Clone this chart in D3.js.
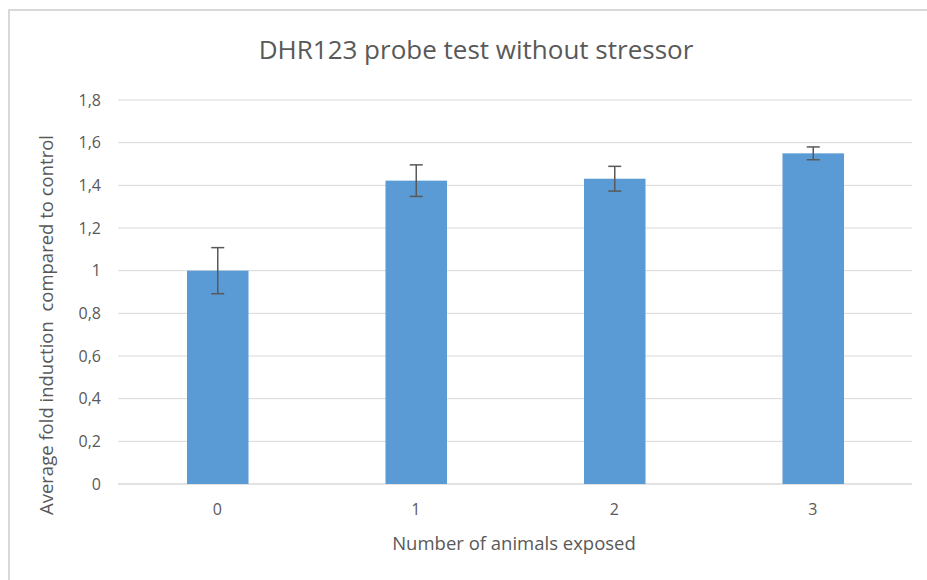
<!DOCTYPE html>
<html>
<head>
<meta charset="utf-8">
<script src="https://cdn.jsdelivr.net/npm/d3@7"></script>
<style>
  body { margin: 0; background: #fff; }
  text { font-family: "Open Sans", "Liberation Sans", sans-serif; fill: #595959; }
</style>
</head>
<body>
<svg id="chart" width="927" height="580"></svg>
<script>
// values
const categories = ["0", "1", "2", "3"];
const means = [1.0, 1.422, 1.431, 1.55];
const errors = [0.108, 0.074, 0.058, 0.03];
const yTicks = [0, 0.2, 0.4, 0.6, 0.8, 1, 1.2, 1.4, 1.6, 1.8];

const width = 927, height = 580;
const margin = { left: 118, right: 15, top: 100, bottom: 96 };
const barColor = "#5b9bd5";
const gridColor = "#d9d9d9";

const svg = d3.select("#chart");

// outer chart border (right/bottom run off the picture)
svg.append("rect")
    .attr("x", 9)
    .attr("y", 10)
    .attr("width", 940)
    .attr("height", 600)
    .attr("fill", "#fff")
    .attr("stroke", gridColor)
    .attr("stroke-width", 2);

const x = d3.scaleBand()
    .domain(categories)
    .range([margin.left, width - margin.right])
    .paddingInner(0.69)
    .paddingOuter(0.345);

const y = d3.scaleLinear()
    .domain([0, 1.8])
    .range([height - margin.bottom, margin.top]);

const fmt = d => d3.format("~g")(d).replace(".", ",");

// gridlines
svg.append("g")
    .selectAll("line")
    .data(yTicks)
    .enter()
    .append("line")
    .attr("x1", margin.left)
    .attr("x2", width - margin.right)
    .attr("y1", d => y(d))
    .attr("y2", d => y(d))
    .attr("stroke", gridColor)
    .attr("stroke-width", d => d === 0 ? 1.5 : 1);

// y tick labels
svg.append("g")
    .selectAll("text")
    .data(yTicks)
    .enter()
    .append("text")
    .attr("x", 101)
    .attr("y", d => y(d))
    .attr("dy", "0.35em")
    .attr("text-anchor", "end")
    .style("font-size", "16px")
    .text(fmt);

// bars
svg.append("g")
    .selectAll("rect")
    .data(categories)
    .enter()
    .append("rect")
    .attr("x", d => x(d) + 0.5)
    .attr("y", (d, i) => y(means[i]))
    .attr("width", x.bandwidth())
    .attr("height", (d, i) => y(0) - y(means[i]))
    .attr("fill", barColor);

// error bars
const errG = svg.append("g")
    .attr("stroke", "#595959")
    .attr("stroke-width", 1.5);

categories.forEach((c, i) => {
    const cx = x(c) + x.bandwidth() / 2 + 0.5;
    const hi = y(means[i] + errors[i]);
    const lo = y(means[i] - errors[i]);
    errG.append("line").attr("x1", cx).attr("x2", cx).attr("y1", hi).attr("y2", lo);
    errG.append("line").attr("x1", cx - 6.5).attr("x2", cx + 6.5).attr("y1", hi).attr("y2", hi);
    errG.append("line").attr("x1", cx - 6.5).attr("x2", cx + 6.5).attr("y1", lo).attr("y2", lo);
});

// x tick labels
svg.append("g")
    .selectAll("text")
    .data(categories)
    .enter()
    .append("text")
    .attr("x", d => x(d) + x.bandwidth() / 2)
    .attr("y", 509)
    .attr("dy", "0.35em")
    .attr("text-anchor", "middle")
    .style("font-size", "16px")
    .text(d => d);

// title
svg.append("text")
    .attr("x", 476)
    .attr("y", 50)
    .attr("dy", "0.35em")
    .attr("text-anchor", "middle")
    .style("font-size", "26px")
    .text("DHR123 probe test without stressor");

// axis titles
svg.append("text")
    .attr("x", 514)
    .attr("y", 544)
    .attr("dy", "0.35em")
    .attr("text-anchor", "middle")
    .style("font-size", "18.5px")
    .text("Number of animals exposed");

svg.append("text")
    .attr("transform", "translate(47,325) rotate(-90)")
    .attr("dy", "0.35em")
    .attr("text-anchor", "middle")
    .style("font-size", "18.5px")
    .style("white-space", "pre")
    .text("Average fold induction  compared to control");
</script>
</body>
</html>
